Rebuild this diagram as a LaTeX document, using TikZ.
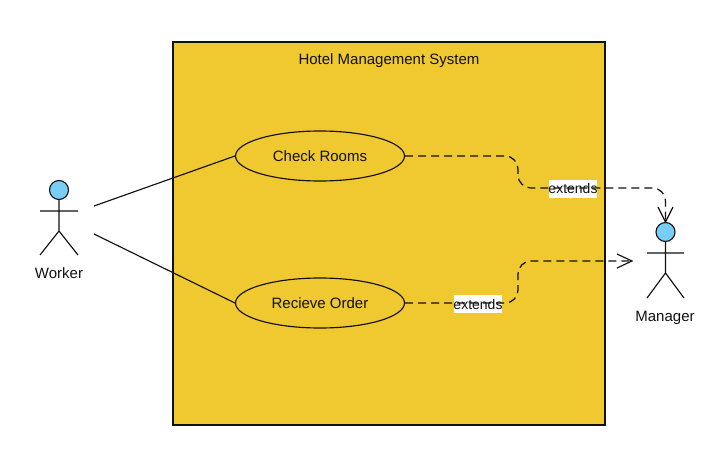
\documentclass[tikz,border=0pt]{standalone}
\usepackage{fontspec}
\setmainfont{Liberation Sans}
\definecolor{boxfill}{HTML}{F0C82F}
\definecolor{headfill}{HTML}{79CEF6}
\definecolor{ink}{HTML}{111111}
\usetikzlibrary{shapes.geometric}
\tikzset{
  lbl/.style={font=\fontsize{15}{17}\selectfont,text=ink,inner sep=0pt},
  taglbl/.style={font=\fontsize{14}{17}\selectfont,text=ink,inner sep=0pt},
  usecase/.style={ellipse,draw=ink,line width=1.15pt,fill=boxfill,minimum width=169pt,minimum height=50pt,inner sep=0pt,lbl},
  limb/.style={draw=ink,line width=1.15pt},
  head/.style={circle,draw=ink,line width=1.15pt,fill=headfill,minimum size=19pt,inner sep=0pt},
  link/.style={draw=ink,line width=1.25pt,dash pattern=on 8pt off 5pt,rounded corners=13pt},
  opentip/.style={draw=ink,line width=1.15pt},
  tagbg/.style={fill=white,minimum width=48pt,minimum height=18pt,inner sep=0pt},
}
\begin{document}
\begin{tikzpicture}[x=1pt,y=-1pt]
\useasboundingbox (0,0) rectangle (715,453);
\node[draw=ink,line width=1.05pt,fill=boxfill,minimum width=432pt,minimum height=383pt,inner sep=0pt] (sys) at (389,233.5) {};
\node[lbl] (title) at (389,61) {Hotel Management System};
\node[usecase] (rooms) at (320,156) {Check Rooms};
\node[usecase] (order) at (320,303) {Recieve Order};
% Worker
\node[head] (whead) at (59,190) {};
\coordinate (wneck) at (59,231);
\coordinate (warmL) at (40,211); \coordinate (warmR) at (78,211);
\coordinate (wlegL) at (40,255); \coordinate (wlegR) at (78,255);
\draw[limb] (whead) -- (wneck) (warmL) -- (warmR) (wlegL) -- (wneck) -- (wlegR);
\node[lbl] (worker) at (59,273) {Worker};
% Manager
\node[head] (mhead) at (665.5,232) {};
\coordinate (mneck) at (665.5,273);
\coordinate (marmL) at (647,253); \coordinate (marmR) at (684,253);
\coordinate (mlegL) at (647,298); \coordinate (mlegR) at (684,298);
\draw[limb] (mhead) -- (mneck) (marmL) -- (marmR) (mlegL) -- (mneck) -- (mlegR);
\node[lbl] (manager) at (665,318) {Manager};
% Plain associations
\coordinate (wa) at (94,206); \coordinate (wb) at (94,234);
\draw[limb] (wa) -- (rooms.west);
\draw[limb] (wb) -- (order.west);
% Extends connectors
\node[tagbg] (tag1) at (573,188.5) {};
\node[tagbg] (tag2) at (478,304) {};
\coordinate (tipA) at (665.5,222);
\coordinate (tipB) at (632,261);
\draw[link] (rooms.east) -- (518,156) -- (518,188) -- (665.5,188) -- (tipA);
\draw[link] (order.east) -- (518,303) -- (518,261) -- (tipB);
\draw[opentip] (658,207) -- (tipA) -- (673,207);
\draw[opentip] (617,254) -- (tipB) -- (617,268);
\node[taglbl] at (tag1) {extends};
\node[taglbl] at (tag2) {extends};
\end{tikzpicture}
\end{document}
